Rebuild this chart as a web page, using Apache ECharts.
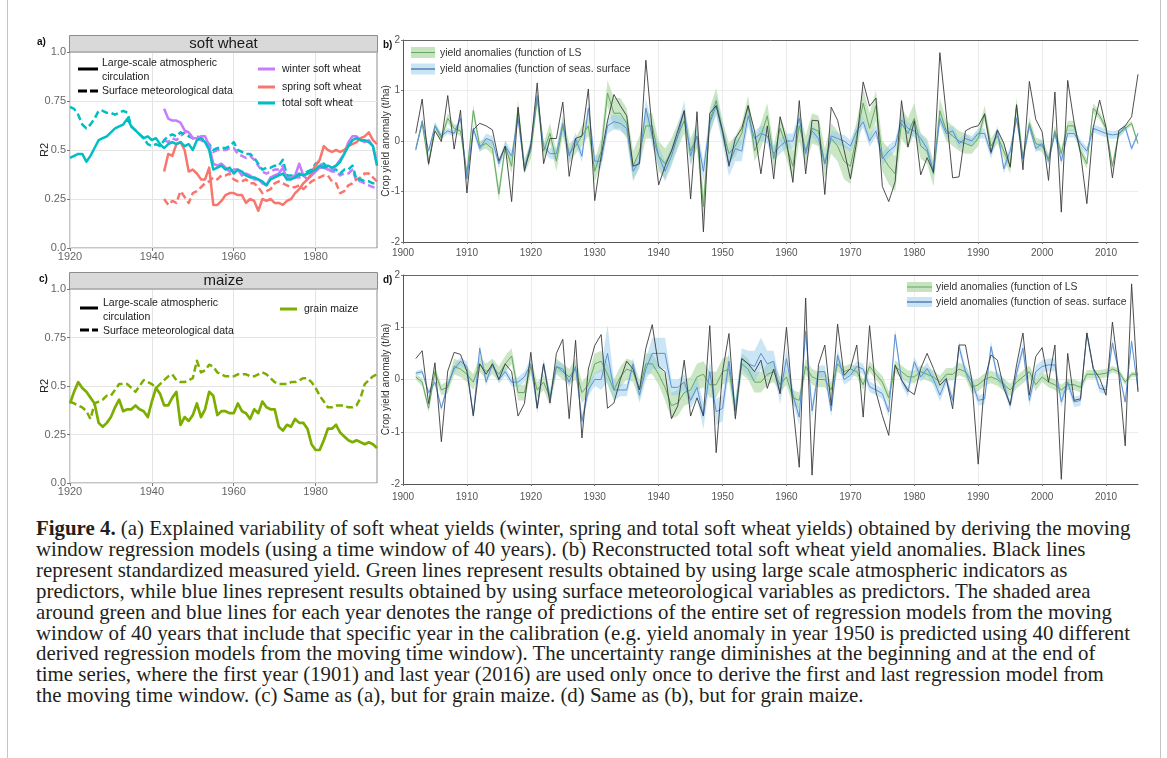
<!DOCTYPE html>
<html><head><meta charset="utf-8">
<script src="https://cdn.jsdelivr.net/npm/echarts@6/dist/echarts.min.js"></script>
<style>
html,body{margin:0;padding:0;background:#fff;}
#wrap{position:relative;width:1167px;height:758px;overflow:hidden;background:#fff;}
#chart{position:absolute;left:0;top:0;width:1167px;height:512px;}
#cap{position:absolute;left:36px;top:518px;font-family:'Liberation Serif','DejaVu Serif',serif;font-size:18px;line-height:20.9px;color:#231f20;white-space:nowrap;}
#cap div{white-space:nowrap;}
.vl{position:absolute;top:0;height:758px;width:1px;background:#c4c4c4;}
</style></head><body>
<div id="wrap">
<div class="vl" style="left:7px"></div>
<div class="vl" style="left:1160px"></div>
<div id="chart"></div>
<div id="cap">
<div><span id="l1"><b>Figure 4.</b> (a) Explained variability of soft wheat yields (winter, spring and total soft wheat yields) obtained by deriving the moving</span></div>
<div>window regression models (using a time window of 40 years). (b) Reconstructed total soft wheat yield anomalies. Black lines</div>
<div>represent standardized measured yield. Green lines represent results obtained by using large scale atmospheric indicators as</div>
<div>predictors, while blue lines represent results obtained by using surface meteorological variables as predictors. The shaded area</div>
<div>around green and blue lines for each year denotes the range of predictions of the entire set of regression models from the moving</div>
<div>window of 40 years that include that specific year in the calibration (e.g. yield anomaly in year 1950 is predicted using 40 different</div>
<div>derived regression models from the moving time window). The uncertainty range diminishes at the beginning and at the end of</div>
<div>time series, where the first year (1901) and last year (2016) are used only once to derive the first and last regression model from</div>
<div>the moving time window. (c) Same as (a), but for grain maize. (d) Same as (b), but for grain maize.</div>
</div>
</div>
<script>
// ---------- DATA ----------
const startAC = 1920;      // first year of panels a, c
const startWS = 1943;      // first year of winter / spring soft wheat
const startBD = 1902;      // first year of panels b, d

const xTicksAC = [1920,1940,1960,1980];
const yTicksAC = [0,0.25,0.5,0.75,1];
const yTickLabelsAC = ['0.0','0.25','0.5','0.75','1.0'];
const xTicksBD = [1900,1910,1920,1930,1940,1950,1960,1970,1980,1990,2000,2010];
const yTicksBD = [-2,-1,0,1,2];

// Panel a: R2, soft wheat (LS = large-scale circulation, solid; SS = surface met data, dashed)
const totalLS = [0.46,0.47,0.48,0.48,0.44,0.47,0.51,0.55,0.56,0.57,
 0.59,0.61,0.62,0.63,0.66,0.62,0.60,0.58,0.56,0.57,
 0.55,0.56,0.53,0.51,0.53,0.54,0.53,0.54,0.52,0.53,
 0.50,0.55,0.56,0.54,0.50,0.40,0.41,0.42,0.40,0.41,
 0.38,0.40,0.39,0.37,0.36,0.36,0.35,0.34,0.32,0.35,
 0.36,0.37,0.38,0.35,0.35,0.36,0.38,0.37,0.38,0.39,
 0.40,0.42,0.41,0.42,0.41,0.42,0.44,0.48,0.52,0.55,
 0.56,0.55,0.55,0.54,0.52,0.42];
const totalSS = [0.72,0.71,0.68,0.63,0.61,0.63,0.66,0.70,0.70,0.69,
 0.69,0.68,0.69,0.70,0.69,0.62,0.60,0.58,0.56,0.53,
 0.52,0.53,0.52,0.55,0.57,0.58,0.57,0.59,0.58,0.57,
 0.56,0.57,0.56,0.55,0.53,0.50,0.51,0.51,0.51,0.52,
 0.54,0.50,0.49,0.48,0.48,0.46,0.43,0.40,0.41,0.41,
 0.42,0.42,0.45,0.37,0.37,0.37,0.37,0.38,0.39,0.40,
 0.43,0.44,0.43,0.41,0.40,0.40,0.38,0.40,0.40,0.42,
 0.35,0.35,0.34,0.34,0.33,0.33];
const winterLS = [0.71,0.66,0.65,0.65,0.64,0.60,0.59,
 0.56,0.56,0.57,0.57,0.52,0.43,0.42,0.43,0.41,0.39,
 0.40,0.40,0.37,0.38,0.37,0.35,0.35,0.33,0.32,0.36,
 0.37,0.38,0.41,0.35,0.36,0.37,0.43,0.37,0.35,0.37,
 0.39,0.41,0.41,0.40,0.40,0.42,0.45,0.48,0.54,0.57,
 0.57,0.55,0.54,0.55,0.52,0.43];
const winterSS = [0.55,0.54,0.56,0.55,0.57,0.59,0.59,
 0.56,0.56,0.55,0.54,0.52,0.49,0.50,0.50,0.50,0.51,
 0.51,0.48,0.47,0.46,0.47,0.45,0.42,0.39,0.38,0.39,
 0.40,0.40,0.42,0.36,0.36,0.36,0.36,0.37,0.38,0.39,
 0.42,0.43,0.42,0.40,0.39,0.39,0.37,0.38,0.38,0.40,
 0.34,0.34,0.33,0.32,0.31,0.31];
const springLS = [0.39,0.48,0.47,0.53,0.54,0.50,0.39,
 0.40,0.38,0.35,0.35,0.41,0.22,0.22,0.24,0.27,0.28,
 0.28,0.27,0.27,0.23,0.25,0.24,0.19,0.25,0.24,0.25,
 0.23,0.23,0.22,0.24,0.25,0.28,0.30,0.33,0.35,0.38,
 0.42,0.45,0.52,0.50,0.49,0.50,0.49,0.50,0.52,0.53,
 0.54,0.56,0.57,0.59,0.55,0.53];
const springSS = [0.25,0.22,0.24,0.23,0.29,0.26,0.23,
 0.28,0.29,0.31,0.33,0.34,0.36,0.35,0.37,0.37,0.38,
 0.35,0.34,0.34,0.35,0.33,0.33,0.31,0.28,0.29,0.30,
 0.33,0.34,0.33,0.32,0.31,0.31,0.32,0.30,0.32,0.34,
 0.35,0.36,0.37,0.37,0.34,0.33,0.28,0.29,0.32,0.33,
 0.35,0.36,0.38,0.38,0.36,0.34];

// Panel c: R2, grain maize
const maizeLS = [0.41,0.47,0.52,0.49,0.47,0.44,0.41,0.31,0.29,0.31,
 0.34,0.39,0.43,0.37,0.38,0.38,0.40,0.38,0.37,0.34,
 0.42,0.49,0.46,0.40,0.40,0.44,0.47,0.30,0.34,0.32,
 0.35,0.41,0.34,0.38,0.47,0.45,0.35,0.37,0.37,0.36,
 0.36,0.41,0.37,0.36,0.33,0.38,0.36,0.42,0.39,0.38,
 0.38,0.29,0.27,0.30,0.29,0.33,0.31,0.31,0.28,0.20,
 0.17,0.17,0.22,0.28,0.28,0.30,0.26,0.24,0.22,0.21,
 0.22,0.21,0.20,0.21,0.20,0.18];
const maizeSS = [0.42,0.41,0.40,0.39,0.37,0.33,0.41,0.42,0.43,0.45,
 0.45,0.48,0.51,0.51,0.51,0.49,0.47,0.50,0.53,0.52,
 0.51,0.49,0.51,0.53,0.55,0.56,0.53,0.52,0.52,0.53,
 0.54,0.63,0.57,0.58,0.61,0.60,0.57,0.56,0.55,0.55,
 0.55,0.56,0.56,0.56,0.55,0.55,0.56,0.57,0.56,0.54,
 0.52,0.51,0.51,0.51,0.52,0.52,0.53,0.54,0.54,0.52,
 0.49,0.45,0.42,0.39,0.39,0.40,0.40,0.40,0.39,0.39,
 0.40,0.44,0.51,0.53,0.55,0.56];

// Panel b: soft wheat yield anomalies (t/ha), 1902-2015
const bObs = [0.15,0.83,-0.46,0.2,-0.01,0.9,-0.16,0.61,
 -1.03,0.22,0.35,0.3,0.22,-0.4,-0.1,-1.2,0.67,-0.6,
 -0.1,1.15,-0.45,0.05,0.05,0.77,-0.7,0.05,0.1,1.03,
 -1.18,-0.3,0.4,0.92,0.7,0.5,-0.5,-0.45,1.6,0.2,
 -0.87,-0.5,-0.2,0.2,0.6,-1.15,0.58,-1.8,0.55,0.7,
 0.2,-0.5,0.05,0.25,0.7,0.2,-0.65,0.3,-0.75,0.48,
 0.0,-0.82,0.8,-0.65,0.41,0.4,-1.06,0.67,0.41,-0.17,
 -0.75,0.0,1.17,0.69,0.85,-0.9,-1.2,-0.81,0.8,-0.12,
 0.4,-0.67,-0.33,-0.62,1.75,0.53,-0.73,-0.71,0.2,0.27,
 0.3,0.53,-0.22,0.22,-0.04,-0.52,0.72,-0.57,1.18,0.43,
 0.18,-0.78,0.97,-1.41,1.2,0.37,-0.24,-1.24,0.27,0.81,
 0.27,-0.73,0.21,0.3,0.48,1.32];
const bLS = [-0.15,0.35,-0.45,0.3,0.05,0.45,0.25,0.2,
 -0.65,0.6,-0.1,-0.05,-0.15,-1.05,-0.1,-0.5,0.65,-0.5,
 -0.2,0.85,-0.2,0.15,-0.4,0.3,-0.25,-0.1,0.1,0.3,
 -0.6,-0.2,0.95,0.55,0.55,0.35,-0.5,-0.2,0.3,0.3,
 -0.3,-0.45,-0.2,0.1,0.4,-0.2,0.1,-1.3,0.4,0.8,
 0.2,-0.25,-0.1,0.15,0.7,-0.2,0.1,0.5,-0.35,0.25,
 -0.1,-0.5,0.3,-0.2,0.25,0.2,-0.45,0.05,-0.1,-0.4,
 -0.5,0.1,0.75,0.25,0.7,-0.3,-0.5,-0.65,0.35,0.15,
 0.45,-0.1,-0.2,-0.65,0.6,0.2,0.1,0.0,-0.05,-0.1,
 0.05,0.55,-0.1,0.1,-0.2,-0.5,0.7,-0.35,0.35,-0.05,
 -0.1,-0.35,0.2,-0.25,0.3,0.3,-0.2,-0.45,0.65,0.5,
 0.25,-0.5,0.15,0.25,0.35,-0.05];
const bLSspread = [0.05,0.08,0.08,0.08,0.08,0.1,0.08,0.1,
 0.12,0.12,0.1,0.1,0.12,0.15,0.12,0.15,0.15,0.15,
 0.15,0.15,0.15,0.2,0.2,0.2,0.2,0.15,0.2,0.2,
 0.2,0.25,0.25,0.3,0.3,0.3,0.3,0.3,0.25,0.25,
 0.3,0.3,0.25,0.25,0.25,0.25,0.25,0.3,0.25,0.25,
 0.2,0.2,0.2,0.2,0.2,0.2,0.25,0.25,0.25,0.25,
 0.25,0.3,0.3,0.3,0.3,0.3,0.3,0.3,0.3,0.35,
 0.35,0.3,0.3,0.3,0.3,0.3,0.35,0.35,0.3,0.3,
 0.3,0.25,0.25,0.25,0.25,0.2,0.2,0.2,0.2,0.15,
 0.15,0.15,0.15,0.15,0.15,0.15,0.15,0.12,0.12,0.12,
 0.12,0.1,0.1,0.1,0.1,0.1,0.1,0.1,0.1,0.08,
 0.08,0.08,0.06,0.05,0.05,0.04];
const bSS = [-0.18,0.4,-0.2,0.3,0.1,0.2,0.15,0.45,
 -0.75,0.25,-0.15,0.05,0.0,-0.45,-0.1,-0.3,0.45,-0.55,
 -0.05,0.9,-0.1,-0.25,-0.25,0.35,-0.3,0.05,-0.3,0.65,
 -0.4,-0.4,0.3,0.38,0.35,0.25,-0.6,-0.4,0.65,0.1,
 -0.3,-0.6,-0.3,0.1,0.6,-0.3,0.1,-0.6,0.35,0.7,
 0.15,-0.45,-0.15,-0.2,0.5,0.05,0.15,0.1,-0.25,-0.1,
 0.0,0.0,0.45,-0.25,0.2,0.05,-0.45,0.1,0.05,0.0,
 -0.1,0.2,0.38,0.0,0.2,-0.35,-0.2,-0.1,0.42,0.25,
 0.2,0.05,-0.15,-0.6,0.45,0.15,0.2,-0.05,0.05,0.0,
 0.15,0.15,-0.25,0.2,-0.55,-0.2,0.45,-0.35,0.3,-0.15,
 -0.05,-0.4,0.15,-0.4,0.15,0.15,-0.05,-0.2,0.25,0.2,
 0.15,0.12,0.14,0.28,-0.15,0.15];
const bSSspread = [0.04,0.05,0.05,0.06,0.06,0.06,0.06,0.08,
 0.08,0.08,0.08,0.1,0.1,0.1,0.1,0.1,0.1,0.1,
 0.1,0.1,0.1,0.1,0.12,0.12,0.12,0.12,0.12,0.12,
 0.12,0.15,0.15,0.15,0.15,0.15,0.15,0.15,0.2,0.2,
 0.2,0.2,0.2,0.2,0.2,0.2,0.2,0.2,0.2,0.2,
 0.2,0.25,0.25,0.2,0.2,0.15,0.15,0.15,0.15,0.15,
 0.15,0.15,0.12,0.12,0.12,0.12,0.12,0.12,0.12,0.12,
 0.12,0.12,0.12,0.12,0.12,0.12,0.12,0.12,0.12,0.12,
 0.12,0.12,0.12,0.12,0.1,0.1,0.1,0.1,0.1,0.1,
 0.1,0.1,0.1,0.1,0.1,0.1,0.1,0.08,0.08,0.08,
 0.08,0.08,0.08,0.08,0.08,0.08,0.08,0.08,0.08,0.08,
 0.08,0.08,0.08,0.06,0.06,0.04];

// Panel d: grain maize yield anomalies (t/ha), 1902-2015
const dObs = [0.4,0.55,-0.46,0.32,-1.19,0.16,0.52,0.48,
 0.15,-0.69,0.3,0.1,0.3,0.0,0.3,0.15,-0.7,-0.46,
 0.52,-0.55,0.3,-0.45,0.5,0.77,-0.75,0.75,-1.12,0.2,
 0.65,0.86,-0.55,-0.45,0.0,0.35,0.2,-0.2,0.6,1.05,
 0.25,0.15,-0.75,-0.5,0.37,-0.7,-0.35,-0.7,1.03,-1.4,
 0.15,0.88,-0.75,0.4,0.3,0.15,0.37,-0.17,0.2,-0.27,
 1.0,-0.5,-1.68,1.56,-1.83,0.28,0.66,-0.5,1.06,0.08,
 0.21,0.66,-0.72,1.03,-0.24,-0.69,-1.07,0.28,-0.01,-0.2,
 -0.29,0.21,0.5,0.21,-0.11,0.02,-0.56,0.66,0.66,-0.01,
 -1.62,-0.01,0.47,0.37,-0.17,-0.48,0.28,0.89,-0.3,0.44,
 0.61,-0.05,0.66,-1.91,0.5,-0.4,-0.37,0.89,0.21,0.02,
 -0.3,1.1,0.1,-1.27,1.83,-0.24];
const dLS = [0.05,-0.05,-0.55,0.15,-0.2,-0.15,0.25,0.2,
 0.1,-0.05,0.3,0.15,0.25,0.1,0.3,0.45,-0.25,-0.25,
 0.25,-0.2,-0.05,-0.35,0.25,0.15,0.05,0.2,-0.25,-0.1,
 0.3,0.35,0.1,-0.2,0.05,0.2,0.15,-0.2,0.3,0.3,
 0.1,-0.15,-0.5,-0.45,-0.25,-0.2,0.05,0.1,-0.1,-0.1,
 0.15,0.2,-0.6,0.3,0.2,-0.05,-0.05,0.1,0.15,-0.1,
 0.05,-0.35,-0.4,0.25,0.05,0.0,0.0,-0.2,0.3,0.15,
 0.2,0.15,-0.1,0.25,0.1,-0.05,-0.35,0.25,0.15,0.05,
 0.05,0.15,0.1,0.05,-0.05,0.1,0.1,0.2,0.15,-0.15,
 -0.1,0.0,0.05,0.0,-0.1,-0.2,-0.05,0.05,0.15,-0.1,
 0.05,-0.05,-0.1,-0.2,-0.1,-0.1,-0.15,0.1,0.1,0.1,
 0.12,0.2,0.15,-0.05,0.1,0.1];
const dLSspread = [0.05,0.08,0.08,0.1,0.1,0.12,0.15,0.15,
 0.15,0.15,0.15,0.15,0.15,0.15,0.15,0.15,0.15,0.15,
 0.15,0.15,0.15,0.15,0.15,0.15,0.15,0.2,0.2,0.2,
 0.2,0.2,0.2,0.2,0.2,0.2,0.2,0.2,0.2,0.2,
 0.2,0.25,0.25,0.25,0.25,0.25,0.25,0.25,0.25,0.25,
 0.25,0.25,0.2,0.2,0.2,0.2,0.2,0.2,0.2,0.15,
 0.15,0.15,0.15,0.15,0.15,0.15,0.15,0.15,0.15,0.1,
 0.1,0.1,0.1,0.1,0.1,0.12,0.12,0.12,0.12,0.12,
 0.12,0.12,0.12,0.12,0.12,0.12,0.12,0.12,0.12,0.12,
 0.12,0.12,0.12,0.12,0.12,0.12,0.12,0.12,0.12,0.12,
 0.1,0.1,0.1,0.1,0.1,0.1,0.1,0.08,0.08,0.08,
 0.08,0.06,0.06,0.06,0.05,0.04];
const dSS = [0.12,0.15,-0.25,-0.05,-0.55,-0.1,0.2,0.35,
 0.25,-0.7,0.6,-0.05,0.3,0.0,0.15,-0.05,-0.05,0.05,
 0.3,-0.55,0.3,-0.35,0.25,0.2,-0.05,0.25,-0.8,-0.2,
 0.0,0.0,0.5,-0.2,-0.2,-0.2,0.3,-0.3,0.2,0.5,
 0.5,0.5,-0.15,-0.15,-0.05,-0.4,-0.15,-0.7,0.15,-0.62,
 -0.55,0.35,-0.6,0.4,0.3,0.25,0.5,0.3,0.35,-0.27,
 0.4,-0.3,-0.72,0.92,-0.6,0.15,0.15,-0.6,0.47,0.0,
 0.08,0.25,0.2,-0.14,-0.2,-0.27,-0.62,0.86,-0.01,-0.24,
 0.34,0.05,0.21,0.0,-0.3,0.0,-0.4,0.63,0.15,-0.03,
 -0.4,-0.37,0.63,0.05,-0.08,-0.5,0.12,0.6,-0.4,0.15,
 0.25,0.28,0.28,-0.43,-0.05,-0.43,-0.4,0.89,0.21,-0.17,
 -0.2,0.7,0.15,-0.43,0.73,-0.2];
const dSSspread = [0.04,0.05,0.05,0.06,0.06,0.06,0.08,0.08,
 0.08,0.08,0.08,0.08,0.08,0.08,0.08,0.08,0.1,0.1,
 0.1,0.1,0.1,0.1,0.1,0.1,0.1,0.1,0.12,0.12,
 0.12,0.2,0.55,0.2,0.12,0.12,0.12,0.15,0.2,0.3,
 0.3,0.3,0.15,0.15,0.15,0.15,0.2,0.25,0.2,0.25,
 0.25,0.2,0.2,0.2,0.25,0.3,0.3,0.25,0.2,0.2,
 0.2,0.15,0.15,0.15,0.15,0.12,0.12,0.12,0.12,0.1,
 0.1,0.1,0.1,0.1,0.1,0.1,0.1,0.1,0.1,0.1,
 0.1,0.1,0.12,0.12,0.12,0.1,0.1,0.1,0.1,0.1,
 0.1,0.1,0.1,0.1,0.1,0.1,0.1,0.1,0.12,0.12,
 0.12,0.12,0.12,0.1,0.1,0.1,0.1,0.08,0.08,0.08,
 0.08,0.08,0.06,0.06,0.05,0.04];

// ---------- STYLE ----------
const F = "'Liberation Sans', Arial, sans-serif";
const C = {winter:'#c77cff', spring:'#f8766d', total:'#00bfc4', maize:'#7cae00',
  obs:'#3a3a3a', ls:'#62a862', ssL:'#5d8fd6', lsBand:'rgba(150,205,140,0.5)', ssBand:'rgba(150,205,235,0.5)'};

function pairs(y0, arr){ return arr.map((v,i)=>[y0+i, v]); }
function line(xi, y0, arr, color, width, dashed, z){
  return {type:'line', xAxisIndex:xi, yAxisIndex:xi, data:pairs(y0,arr), symbol:'none', silent:true, z:z||3,
    lineStyle:{color:color, width:width, type: dashed ? [7,3.5] : 'solid', cap:'butt', join:'round'}};
}
// uncertainty band as one polygon, placed with the series' own axes
function band(xi, mean, spread, color){
  return {type:'custom', xAxisIndex:xi, yAxisIndex:xi, silent:true, z:1,
    data:[[startBD, mean[0]]],
    renderItem:function(params, api){
      const up = [], lo = [];
      for (let i = 0; i < mean.length; i++){
        up.push(api.coord([startBD+i, mean[i]+spread[i]]));
        lo.push(api.coord([startBD+i, mean[i]-spread[i]]));
      }
      return {type:'polygon', shape:{points: up.concat(lo.reverse())}, style:{fill:color, stroke:null}};
    }};
}
function xAC(gi){ return {type:'value', gridIndex:gi, min:1920, max:1995, interval:10,
  axisLine:{show:false, onZero:false},
  axisTick:{show:true, length:3, customValues:xTicksAC, lineStyle:{color:'#777'}},
  axisLabel:{margin:3, color:'#666', fontSize:11, fontFamily:F, customValues:xTicksAC, formatter:v=>String(v)},
  splitLine:{show:true, lineStyle:{color:'#e4e4e4', width:1}}}; }
function yAC(gi){ return {type:'value', gridIndex:gi, min:0, max:1, interval:0.125,
  name:'R2', nameLocation:'middle', nameGap:20, nameRotate:90, nameMoveOverlap:false,
  nameTextStyle:{color:'#222', fontSize:11, fontFamily:F},
  axisLine:{show:false, onZero:false},
  axisTick:{show:true, length:3, customValues:yTicksAC, lineStyle:{color:'#777'}},
  axisLabel:{margin:4, color:'#666', fontSize:11, fontFamily:F, customValues:yTicksAC,
    formatter:v=>{const i=yTicksAC.indexOf(Math.round(v*1000)/1000); return i>=0?yTickLabelsAC[i]:'';}},
  splitLine:{show:true, lineStyle:{color:'#e4e4e4', width:1}}}; }
function xBD(gi, margin){ return {type:'value', gridIndex:gi, min:1900, max:2015, interval:5,
  axisLine:{show:true, onZero:false, lineStyle:{color:'#555', width:1}},
  axisTick:{show:true, length:2, customValues:xTicksBD, lineStyle:{color:'#777'}},
  axisLabel:{margin:margin, color:'#555', fontSize:10, fontFamily:F, customValues:xTicksBD, formatter:v=>String(v)},
  splitLine:{show:true, lineStyle:{color:'#ececec', width:1}}}; }
function yBD(gi){ return {type:'value', gridIndex:gi, min:-2, max:2, interval:0.5,
  name:'Crop yield anomaly (t/ha)', nameLocation:'middle', nameGap:12, nameRotate:90, nameMoveOverlap:false,
  nameTextStyle:{color:'#333', fontSize:10, fontFamily:F},
  axisLine:{show:true, onZero:false, lineStyle:{color:'#555', width:1}},
  axisTick:{show:true, length:2, customValues:yTicksBD, lineStyle:{color:'#777'}},
  axisLabel:{margin:3, color:'#555', fontSize:10, fontFamily:F, customValues:yTicksBD, formatter:v=>String(v)},
  splitLine:{show:true, lineStyle:{color:'#ececec', width:1}}}; }
function topLine(gi){ return {type:'value', gridIndex:gi, position:'top', min:1900, max:2015,
  axisLine:{show:true, onZero:false, lineStyle:{color:'#666', width:1}}, axisTick:{show:false}, axisLabel:{show:false}, splitLine:{show:false}}; }

// ---------- GRAPHIC (strips, panel letters, legends) ----------
function T(text, x, y, size, opts){ opts=opts||{}; const a = opts.align||'left'; return {type:'text', silent:true, z:20,
  style:{text:text, x:x, y:y, fill:opts.fill||'#1a1a1a', font:(opts.bold?'bold ':'')+size+'px '+F,
  align:a, verticalAlign:'middle', textAlign:a, textVerticalAlign:'middle'}}; }
function L(x1,y1,x2,y2,color,w,dash){ return {type:'line', silent:true, z:20, shape:{x1:x1,y1:y1,x2:x2,y2:y2},
  style:{stroke:color, lineWidth:w, lineDash:dash||null}}; }
function R(x,y,w,h,fill,stroke){ return {type:'rect', silent:true, z:19, shape:{x:x,y:y,width:w,height:h},
  style:{fill:fill, stroke:stroke||null, lineWidth:1}}; }

const graphic = [
  R(69.5,35.5,308,16.5,'#d9d9d9','#8c8c8c'), T('soft wheat',223.5,43.5,15,{align:'center'}),
  R(69.5,272.5,308,16.5,'#d9d9d9','#8c8c8c'), T('maize',223.5,281,15,{align:'center'}),
  T('a)',37,42,10,{bold:true,fill:'#111'}), T('b)',383,45,10,{bold:true,fill:'#111'}),
  T('c)',39,279,10,{bold:true,fill:'#111'}), T('d)',383,280,10,{bold:true,fill:'#111'}),
  // legend a
  L(78,69,98,69,'#000',3), T('Large-scale atmospheric',102,63,10.5), T('circulation',102,77,10.5),
  L(78,91,98,91,'#000',3,[9,3]), T('Surface meteorological data',102,91,10.5),
  L(258,69,275,69,C.winter,3), T('winter soft wheat',282,69,10.5),
  L(258,87,275,87,C.spring,3), T('spring soft wheat',282,87,10.5),
  L(258,103,275,103,C.total,3), T('total soft wheat',282,103,10.5),
  // legend c
  L(80,308,98,308,'#000',3), T('Large-scale atmospheric',103,303,10.5), T('circulation',103,317,10.5),
  L(80,330,98,330,'#000',3,[9,3]), T('Surface meteorological data',103,331,10.5),
  L(280,309,297,309,C.maize,3), T('grain maize',304,309,10.5),
  // legend b
  R(411,47,24,11,'#c6e2bf'), L(411,52.5,435,52.5,C.ls,1), T('yield anomalies (function of LS',440,53,10.4,{fill:'#333'}),
  R(411,63.5,24,11,'#c9e5f4'), L(411,69,435,69,'#3f63a8',1.2), T('yield anomalies (function of seas. surface',440,69,10.4,{fill:'#333'}),
  // legend d
  R(907,282,25,10,'#c6e2bf'), L(907,287,932,287,C.ls,1), T('yield anomalies (function of LS',936,287,10.4,{fill:'#333'}),
  R(907,297,25,10,'#c9e5f4'), L(907,302,932,302,'#3f63a8',1.2), T('yield anomalies (function of seas. surface',936,302,10.4,{fill:'#333'})
];

const series = [
  // panel a (index 0)
  line(0, startWS, winterSS, C.winter, 2.5, true), line(0, startWS, springSS, C.spring, 2.5, true), line(0, startAC, totalSS, C.total, 2.5, true),
  line(0, startWS, winterLS, C.winter, 2.5, false), line(0, startWS, springLS, C.spring, 2.5, false), line(0, startAC, totalLS, C.total, 2.5, false),
  // panel c (index 1)
  line(1, startAC, maizeSS, C.maize, 2.5, true), line(1, startAC, maizeLS, C.maize, 2.7, false),
  // panel b (index 2)
  band(2, bLS, bLSspread, C.lsBand), band(2, bSS, bSSspread, C.ssBand),
  line(2, startBD, bLS, C.ls, 1, false, 4), line(2, startBD, bSS, C.ssL, 1, false, 5), line(2, startBD, bObs, C.obs, 0.9, false, 6),
  // panel d (index 3)
  band(3, dLS, dLSspread, C.lsBand), band(3, dSS, dSSspread, C.ssBand),
  line(3, startBD, dLS, C.ls, 1, false, 4), line(3, startBD, dSS, C.ssL, 1, false, 5), line(3, startBD, dObs, C.obs, 0.9, false, 6)
];

const chart = echarts.init(document.getElementById('chart'), null, {renderer:'canvas'});
chart.setOption({
  animation:false,
  backgroundColor:'transparent',
  grid:[
    {left:70, top:52, width:307, height:196, show:true, borderColor:'#8c8c8c', borderWidth:1, backgroundColor:'#fff', containLabel:false, outerBoundsMode:'none'},
    {left:70, top:289, width:307, height:194, show:true, borderColor:'#8c8c8c', borderWidth:1, backgroundColor:'#fff', containLabel:false, outerBoundsMode:'none'},
    {left:403, top:40, width:735, height:202, containLabel:false, outerBoundsMode:'none'},
    {left:403, top:275, width:735, height:209, containLabel:false, outerBoundsMode:'none'}
  ],
  xAxis:[xAC(0), xAC(1), xBD(2,6), xBD(3,8), topLine(2), topLine(3)],
  yAxis:[yAC(0), yAC(1), yBD(2), yBD(3)],
  graphic:graphic,
  series:series
});

// fit caption font size to the reference's first-line width
(function(){
  const l1 = document.getElementById('l1');
  const w = l1.getBoundingClientRect().width;
  if (w > 0) document.getElementById('cap').style.fontSize = (18 * 1095 / w).toFixed(2) + 'px';
})();
</script>
</body></html>
